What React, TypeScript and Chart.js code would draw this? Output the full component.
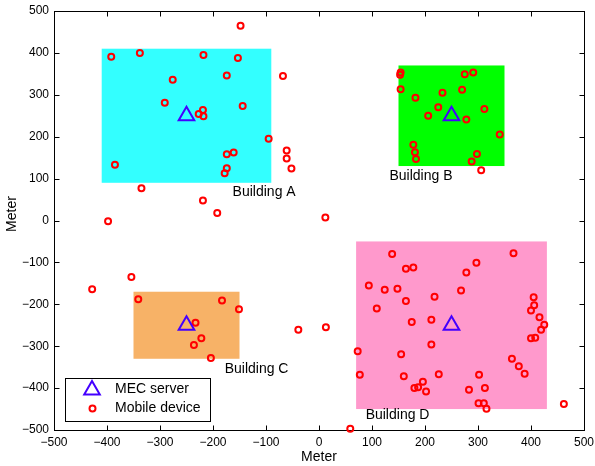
import React, { useEffect, useRef } from "react";
import { Chart, registerables } from "chart.js";

Chart.register(...registerables);

const buildingNames = ["Building A", "Building B", "Building C", "Building D"];
const buildingX0 = [-410, 150, -350, 70];
const buildingX1 = [-90, 350, -150, 430];
const buildingY0 = [90, 130, -330, -450];
const buildingY1 = [410, 370, -170, -50];
const buildingColors = ["#33ffff", "#00ff00", "#f7b267", "#ff99cc"];
const labelX = [-163, 133, -178, 88];
const labelY = [67, 105, -354, -465];

const serverX = [-250, 250, -250, 250];
const serverY = [250, 250, -250, -250];

const deviceX = [
  -148, -392, -338, -218, -153, -276, -174, -68, -291, -144, -219, -227, -218, -95, -61, -61, -52, -385, -161, -174,
  -174, -178, -335, -219, -192, -398, 12,
  154, 153, 275, 291, 154, 233, 270, 182, 225, 206, 312, 278, 341, 178, 181, 183, 298, 288, 306,
  -354, -428, -341, -183, -151, -233, -222, -236, -204, -39,
  13, 59, 138, 367, 297, 164, 178, 278, 94, 124, 148, 268, 164, 218, 109, 405, 406, 400, 416, 425, 419, 175, 212,
  408, 400, 212, 73, 155, 364, 377, 388, 77, 160, 226, 302, 196, 187, 180, 202, 283, 313, 301, 311, 316, 462,
];
const deviceY = [
  465, 391, 400, 395, 388, 336, 346, 345, 281, 273, 264, 254, 249, 195, 167, 148, 124, 133, 162, 158,
  125, 113, 77, 48, 18, -2, 7,
  353, 348, 349, 353, 313, 305, 312, 293, 270, 250, 266, 241, 205, 181, 163, 147, 159, 141, 120,
  -135, -164, -188, -191, -212, -244, -281, -297, -328, -261,
  -255, -497, -80, -78, -101, -115, -112, -124, -155, -165, -163, -167, -192, -182, -210, -183, -202, -215, -231,
  -249, -261, -242, -237, -280, -281, -296, -312, -319, -330, -348, -366, -368, -372, -367, -368, -385, -398, -400,
  -408, -404, -400, -436, -436, -449, -438,
];

const tickValues = [-500, -400, -300, -200, -100, 0, 100, 200, 300, 400, 500];
const legendLabels = ["MEC server", "Mobile device"];
const xTitle = "Meter";
const yTitle = "Meter";

const FONT = '"Liberation Sans", Arial, Helvetica, sans-serif';
const SERVER_COLOR = "#4400ff";
const DEVICE_COLOR = "#ff0000";

const fmt = (v: number | string) => String(v).replace("-", "\u2212");

const decorPlugin = {
  id: "decor",
  beforeDatasetsDraw(chart: any) {
    const { ctx, chartArea } = chart;
    const xs = chart.scales.x;
    const ys = chart.scales.y;
    ctx.save();
    for (let i = 0; i < buildingNames.length; i++) {
      const x0 = xs.getPixelForValue(buildingX0[i]);
      const x1 = xs.getPixelForValue(buildingX1[i]);
      const y0 = ys.getPixelForValue(buildingY1[i]);
      const y1 = ys.getPixelForValue(buildingY0[i]);
      ctx.fillStyle = buildingColors[i];
      ctx.fillRect(x0, y0, x1 - x0, y1 - y0);
    }
    ctx.fillStyle = "#000";
    ctx.font = `14px ${FONT}`;
    ctx.textAlign = "left";
    ctx.textBaseline = "middle";
    for (let i = 0; i < buildingNames.length; i++) {
      ctx.fillText(buildingNames[i], xs.getPixelForValue(labelX[i]), ys.getPixelForValue(labelY[i]));
    }
    // y axis title
    ctx.save();
    ctx.translate(12, 214);
    ctx.rotate(-Math.PI / 2);
    ctx.textAlign = "center";
    ctx.fillText(yTitle, 0, 0);
    ctx.restore();
    // box
    ctx.strokeStyle = "#000";
    ctx.lineWidth = 1;
    const l = Math.round(chartArea.left) + 0.5;
    const r = Math.round(chartArea.right) + 0.5;
    const t = Math.round(chartArea.top) + 0.5;
    const b = Math.round(chartArea.bottom) + 0.5;
    ctx.strokeRect(l, t, r - l, b - t);
    const tl = 5;
    ctx.beginPath();
    for (const v of tickValues) {
      const px = Math.round(xs.getPixelForValue(v)) + 0.5;
      ctx.moveTo(px, b);
      ctx.lineTo(px, b - tl);
      ctx.moveTo(px, t);
      ctx.lineTo(px, t + tl);
      const py = Math.round(ys.getPixelForValue(v)) + 0.5;
      ctx.moveTo(l, py);
      ctx.lineTo(l + tl, py);
      ctx.moveTo(r, py);
      ctx.lineTo(r - tl, py);
    }
    ctx.stroke();
    ctx.restore();
  },
  afterDatasetsDraw(chart: any) {
    const { ctx } = chart;
    ctx.save();
    const bx = 65.5, by = 378.5, bw = 145, bh = 43;
    ctx.fillStyle = "#fff";
    ctx.fillRect(bx, by, bw, bh);
    ctx.strokeStyle = "#000";
    ctx.lineWidth = 1;
    ctx.strokeRect(bx, by, bw, bh);
    const tx = 92, ty = 390, tr = 9;
    ctx.strokeStyle = SERVER_COLOR;
    ctx.lineWidth = 2;
    ctx.beginPath();
    for (let k = 0; k < 3; k++) {
      const a = (k * 2 * Math.PI) / 3;
      const px = tx + Math.sin(a) * tr;
      const py = ty - Math.cos(a) * tr;
      if (k === 0) ctx.moveTo(px, py);
      else ctx.lineTo(px, py);
    }
    ctx.closePath();
    ctx.stroke();
    ctx.strokeStyle = DEVICE_COLOR;
    ctx.beginPath();
    ctx.arc(92.5, 408.5, 3, 0, Math.PI * 2);
    ctx.stroke();
    ctx.fillStyle = "#000";
    ctx.font = `14px ${FONT}`;
    ctx.textAlign = "left";
    ctx.textBaseline = "middle";
    ctx.fillText(legendLabels[0], 115, 389);
    ctx.fillText(legendLabels[1], 115, 408.5);
    ctx.restore();
  },
};

export default function App() {
  const ref = useRef<HTMLCanvasElement>(null);
  useEffect(() => {
    if (!ref.current) return;
    const chart = new Chart(ref.current, {
      type: "scatter",
      data: {
        datasets: [
          {
            label: legendLabels[0],
            data: serverX.map((x, i) => ({ x, y: serverY[i] })),
            pointStyle: "triangle",
            pointRadius: 9,
            borderWidth: 2,
            borderColor: SERVER_COLOR,
            backgroundColor: "rgba(0,0,0,0)",
            clip: false as any,
          },
          {
            label: legendLabels[1],
            data: deviceX.map((x, i) => ({ x, y: deviceY[i] })),
            pointStyle: "circle",
            pointRadius: 3,
            borderWidth: 2,
            borderColor: DEVICE_COLOR,
            backgroundColor: "rgba(0,0,0,0)",
            clip: false as any,
          },
        ],
      },
      options: {
        responsive: false,
        animation: false,
        devicePixelRatio: 1,
        layout: { padding: { top: 11, right: 8, left: 0, bottom: 0 } },
        plugins: { legend: { display: false }, tooltip: { enabled: false } },
        scales: {
          x: {
            type: "linear",
            min: -500,
            max: 500,
            grid: { display: false, drawTicks: false },
            border: { display: false },
            ticks: {
              stepSize: 100,
              padding: 5,
              color: "#000",
              font: { family: FONT, size: 12 },
              maxRotation: 0,
              autoSkip: false,
              callback: (v: any) => fmt(v),
            },
            title: {
              display: true,
              text: xTitle,
              color: "#000",
              font: { family: FONT, size: 14 },
              padding: { top: 2, bottom: 0 },
            },
            afterFit: (s: any) => {
              s.height = 36;
              s.paddingLeft = 0;
              s.paddingRight = 0;
            },
          },
          y: {
            type: "linear",
            min: -500,
            max: 500,
            grid: { display: false, drawTicks: false },
            border: { display: false },
            ticks: {
              stepSize: 100,
              padding: 5,
              color: "#000",
              font: { family: FONT, size: 12 },
              autoSkip: false,
              callback: (v: any) => fmt(v),
            },
            title: { display: false },
            afterFit: (s: any) => {
              s.width = 54;
              s.paddingTop = 0;
              s.paddingBottom = 0;
            },
          },
        },
      },
      plugins: [decorPlugin],
    });
    return () => chart.destroy();
  }, []);
  return (
    <div style={{ position: "fixed", left: 0, top: 0, width: 595, height: 466, background: "#fff" }}>
      <canvas ref={ref} width={595} height={466} style={{ display: "block" }} />
    </div>
  );
}
